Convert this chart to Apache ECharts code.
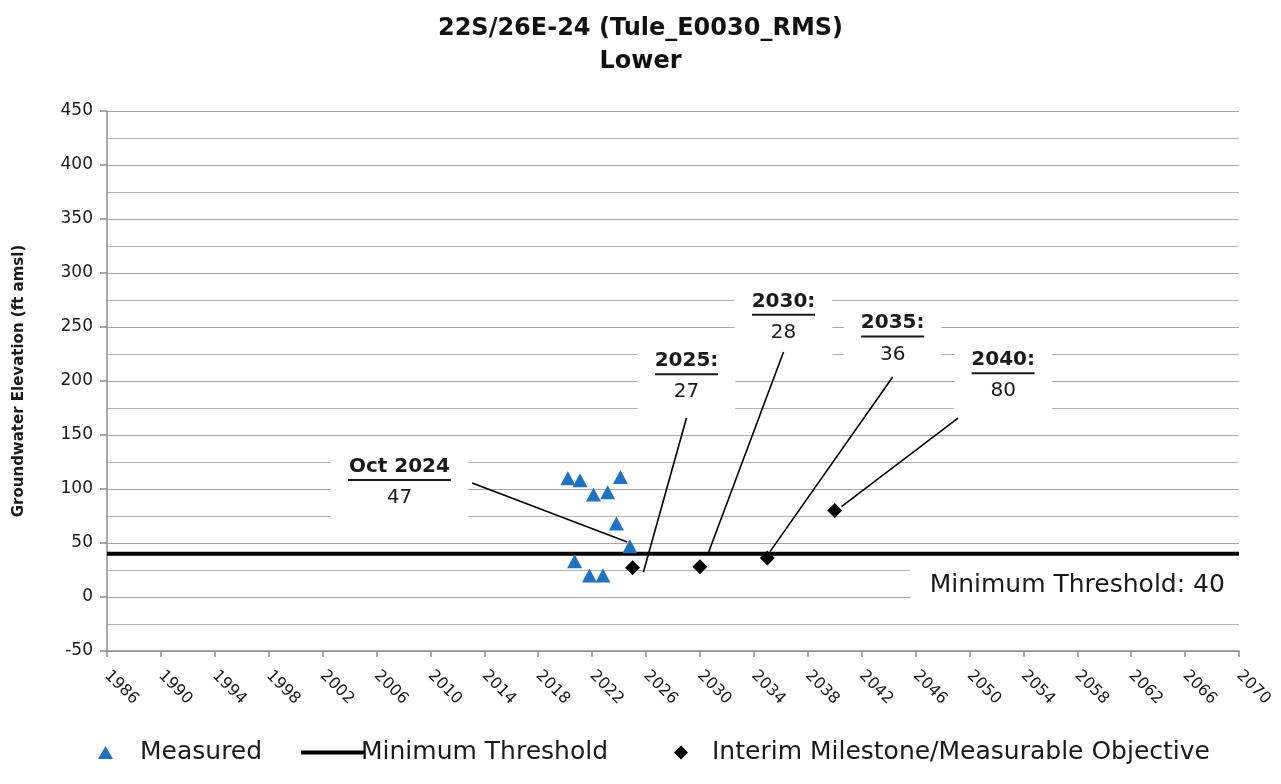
<!DOCTYPE html>
<html>
<head>
<meta charset="utf-8">
<script src="https://cdn.jsdelivr.net/npm/echarts@6/dist/echarts.min.js"></script>
<style>
html, body { margin: 0; padding: 0; background: #fff; }
#main { width: 1281px; height: 784px; }
</style>
</head>
<body>
<div id="main"></div>
<script>
// measured groundwater elevations (decimal year, ft amsl)
var measuredYears = [2020.2, 2020.7, 2021.1, 2021.8, 2022.1, 2022.8, 2023.15, 2023.8, 2024.1, 2024.8];
var measuredValues = [110, 33, 108, 20, 95, 20, 97, 68, 111, 47];

// interim milestones / measurable objective
var milestoneYears = [2025, 2030, 2035, 2040];
var milestoneValues = [27, 28, 36, 80];

// minimum threshold
var thresholdYears = [1986, 2070];
var thresholdValue = 40;

// callouts: title, value, anchor of the box, leader line from / to (data coords)
var calloutTitles = ['Oct 2024', '2025:', '2030:', '2035:', '2040:'];
var calloutValues = [47, 27, 28, 36, 80];
var calloutAt = [[2007.7, 105], [2029.0, 203], [2036.2, 258], [2044.3, 238], [2052.5, 204]];
var leaderFrom = [[2013.1, 105.6], [2029.0, 165.7], [2036.2, 226.9], [2044.3, 203.7], [2049.15, 165.7]];
var leaderTo = [[2024.6, 51], [2025.8, 23], [2030.6, 40], [2035.2, 42], [2040.5, 83.6]];
var thresholdLabelAt = [2058, 11];

var FONT = '"DejaVu Sans", sans-serif';
var TXT = '#1a1a1a';

var myChart = echarts.init(document.getElementById('main'));

myChart.setOption({
    backgroundColor: '#fff',
    animation: false,
    title: {
        text: '22S/26E-24 (Tule_E0030_RMS)\nLower',
        left: 'center',
        top: 7,
        textStyle: {
            fontFamily: FONT,
            fontWeight: 'bold',
            fontSize: 24,
            lineHeight: 33,
            color: '#111'
        }
    },
    grid: { left: 107, right: 42, top: 111, bottom: 133 },
    legend: [{
        data: [{ name: 'Measured', icon: 'triangle' }],
        left: 93, top: 735,
        itemWidth: 15, itemHeight: 13,
        textStyle: { fontFamily: FONT, fontSize: 25, color: TXT, padding: [0, 0, 0, 22] }
    }, {
        data: [{ name: 'Minimum Threshold', icon: 'rect' }],
        left: 296, top: 735,
        itemWidth: 64, itemHeight: 4,
        textStyle: { fontFamily: FONT, fontSize: 25, color: TXT, padding: [0, 0, 0, -9] }
    }, {
        data: [{ name: 'Interim Milestone/Measurable Objective', icon: 'diamond' }],
        left: 669, top: 735,
        itemWidth: 14, itemHeight: 14,
        textStyle: { fontFamily: FONT, fontSize: 25, color: TXT, padding: [0, 0, 0, 19] }
    }],
    xAxis: {
        type: 'value',
        min: 1986,
        max: 2070,
        interval: 4,
        axisLine: { onZero: false, lineStyle: { color: '#8c8c8c', width: 1.5 } },
        axisTick: { show: true, length: 6, lineStyle: { color: '#8c8c8c', width: 1.5 } },
        axisLabel: {
            rotate: -45,
            margin: 22,
            fontFamily: FONT,
            fontSize: 16,
            color: TXT,
            formatter: function (v) { return String(v); }
        },
        splitLine: { show: false }
    },
    yAxis: {
        type: 'value',
        min: -50,
        max: 450,
        interval: 50,
        name: 'Groundwater Elevation (ft amsl)',
        nameLocation: 'middle',
        nameGap: 80,
        nameTextStyle: { fontFamily: FONT, fontWeight: 'bold', fontSize: 15, color: TXT },
        axisLine: { show: true, onZero: false, lineStyle: { color: '#8c8c8c', width: 1.5 } },
        axisTick: { show: true, length: 7, lineStyle: { color: '#8c8c8c', width: 1.5 } },
        axisLabel: { margin: 14, fontFamily: FONT, fontSize: 17, color: TXT },
        splitLine: { show: true, lineStyle: { color: '#a6a6a6', width: 1 } },
        minorTick: { show: false, splitNumber: 2 },
        minorSplitLine: { show: true, lineStyle: { color: '#b3b3b3', width: 1 } }
    },
    series: [
        {
            name: 'Minimum Threshold',
            type: 'line',
            symbol: 'none',
            z: 3,
            data: thresholdYears.map(function (y) { return [y, thresholdValue]; }),
            lineStyle: { color: '#000', width: 4 },
            itemStyle: { color: '#000' }
        },
        {
            name: 'Callouts',
            type: 'scatter',
            symbolSize: 0,
            z: 4,
            silent: true,
            data: calloutAt,
            itemStyle: { opacity: 1 },
            label: {
                show: true,
                position: 'inside',
                opacity: 1,
                color: TXT,
                backgroundColor: '#fff',
                padding: [8, 17, 6, 17],
                formatter: function (p) {
                    var t = calloutTitles[p.dataIndex];
                    var u = t.length > 6 ? 'uw' : 'un';
                    return '{t|' + t + '}\n{' + u + '|\u00a0}\n{v|' + calloutValues[p.dataIndex] + '}';
                },
                rich: {
                    t: { fontFamily: FONT, fontWeight: 'bold', fontSize: 20, lineHeight: 24, color: TXT, align: 'center' },
                    uw: { width: 103, height: 2, lineHeight: 3, fontSize: 1, backgroundColor: TXT, align: 'center' },
                    un: { width: 63, height: 2, lineHeight: 3, fontSize: 1, backgroundColor: TXT, align: 'center' },
                    v: { fontFamily: FONT, fontSize: 20, lineHeight: 33, color: TXT, align: 'center' }
                }
            }
        },
        {
            name: 'Threshold Label',
            type: 'scatter',
            symbolSize: 0,
            z: 4,
            silent: true,
            data: [thresholdLabelAt],
            itemStyle: { opacity: 1 },
            label: {
                show: true,
                position: 'inside',
                opacity: 1,
                backgroundColor: '#fff',
                padding: [12, 19],
                formatter: 'Minimum Threshold: ' + thresholdValue,
                fontFamily: FONT,
                fontSize: 25,
                color: TXT
            }
        },
        {
            name: 'Leaders',
            type: 'lines',
            coordinateSystem: 'cartesian2d',
            z: 5,
            silent: true,
            data: leaderFrom.map(function (f, i) { return { coords: [f, leaderTo[i]] }; }),
            lineStyle: { color: '#000', width: 1.6, opacity: 1 }
        },
        {
            name: 'Measured',
            type: 'scatter',
            symbol: 'triangle',
            symbolSize: [15, 14],
            z: 6,
            data: measuredYears.map(function (y, i) { return [y, measuredValues[i]]; }),
            itemStyle: { color: '#1f72c0', opacity: 1 }
        },
        {
            name: 'Interim Milestone/Measurable Objective',
            type: 'scatter',
            symbol: 'diamond',
            symbolSize: [15, 15],
            z: 6,
            data: milestoneYears.map(function (y, i) { return [y, milestoneValues[i]]; }),
            itemStyle: { color: '#000', opacity: 1 }
        }
    ]
});
</script>
</body>
</html>
